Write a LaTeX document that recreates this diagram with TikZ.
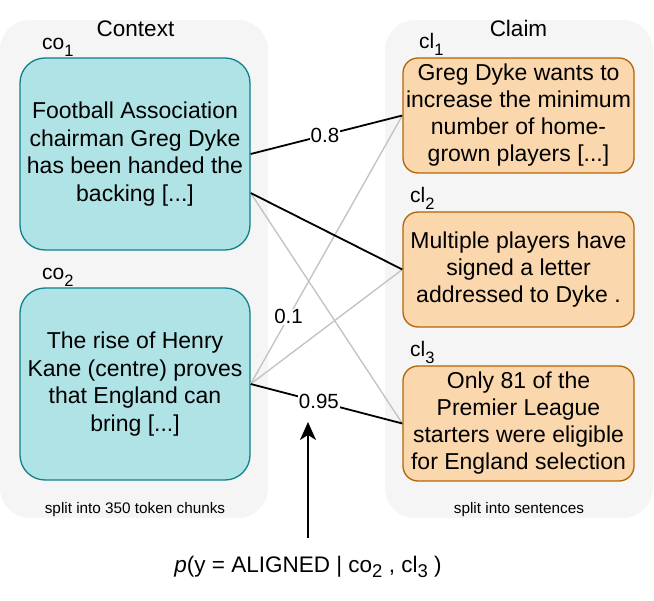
\documentclass[tikz,border=0pt]{standalone}
\usepackage{fontspec}
\setmainfont{Liberation Sans}
\usetikzlibrary{arrows.meta,calc}
\definecolor{cofill}{HTML}{B0E3E6}
\definecolor{codraw}{HTML}{0E8088}
\definecolor{clfill}{HTML}{FAD7AC}
\definecolor{cldraw}{HTML}{B46504}
\definecolor{panelfill}{HTML}{F5F5F5}
\definecolor{lightline}{HTML}{C4C4C4}
\newcommand{\mysub}[1]{\raisebox{-7pt}{\fontsize{16.5}{16.5}\selectfont #1}}
\begin{document}
\begin{tikzpicture}[x=1pt,y=-1pt,
  panel/.style={fill=panelfill,draw=none,rounded corners=30pt},
  cobox/.style={draw=codraw,fill=cofill,line width=1.3pt,rounded corners=25pt,
    minimum width=230pt,minimum height=192pt,inner sep=0pt,align=center,
    font=\fontsize{23}{27.5}\selectfont},
  clbox/.style={draw=cldraw,fill=clfill,line width=1.3pt,rounded corners=15pt,
    minimum width=231pt,minimum height=115pt,inner sep=0pt,align=center,
    font=\fontsize{23}{27}\selectfont},
  title/.style={anchor=base,font=\fontsize{22.5}{26}\selectfont,inner sep=0pt},
  tag/.style={anchor=base west,font=\fontsize{21}{24}\selectfont,inner sep=0pt},
  note/.style={font=\fontsize{15.3}{17}\selectfont,inner sep=0pt},
  strong/.style={black,line width=1.8pt},
  weak/.style={lightline,line width=1.4pt},
  elabel/.style={fill=white,inner sep=1pt,font=\fontsize{20.5}{22}\selectfont,text=black}
]
\useasboundingbox (0,0) rectangle (654,601);
% panels
\fill[panel] (0,20) rectangle (268,518);
\fill[panel] (385,20) rectangle (653,518);
\node[title] (ctxt) at (135.5,36.5) {Context};
\node[title] (clmt) at (518.5,36.5) {Claim};
\node[note] (ctxn) at (135,510) {split into 350 token chunks};
\node[note] (clmn) at (519,510) {split into sentences};
% context boxes
\node[cobox] (co1) at (135,154) {Football Association\\chairman Greg Dyke\\has been handed the\\backing [...]};
\node[cobox] (co2) at (135,384) {The rise of Henry\\Kane (centre) proves\\that England can\\bring [...]};
\node[tag] (co1l) at (42,50) {co\mysub{1}};
\node[tag] (co2l) at (42,280) {co\mysub{2}};
% claim boxes
\node[clbox] (cl1) at (518.5,115.5) {Greg Dyke wants to\\increase the minimum\\number of home-\\grown players [...]};
\node[clbox] (cl2) at (518.5,269.5) {Multiple players have\\signed a letter\\addressed to Dyke .};
\node[clbox] (cl3) at (518.5,423.5) {Only 81 of the\\Premier League\\starters were eligible\\for England selection};
\node[tag] (cl1l) at (419,49) {cl\mysub{1}};
\node[tag] (cl2l) at (410,203) {cl\mysub{2}};
\node[tag] (cl3l) at (410,357) {cl\mysub{3}};
% connection points
\coordinate (co1a) at (co1.east);
\coordinate (co1b) at ($(co1.east)+(0,39)$);
% weak links
\draw[weak] (co1b) -- (cl3.west);
\draw[weak] (co2.east) -- (cl1.west) node[elabel,pos=0.25] (l01) {0.1};
\draw[weak] (co2.east) -- (cl2.west);
% strong links
\draw[strong] (co1a) -- (cl1.west) node[elabel,pos=0.49] (l08) {0.8};
\draw[strong] (co1b) -- (cl2.west);
\draw[strong] (co2.east) -- (cl3.west) node[elabel,pos=0.45] (l095) {0.95};
% formula and arrow
\node[anchor=base,inner sep=0pt,font=\fontsize{22.5}{26}\selectfont] (formula) at (308,573)
  {{\itshape p}(y = ALIGNED | co\raisebox{-4.5pt}{\fontsize{18.5}{18.5}\selectfont 2} , cl\raisebox{-4.5pt}{\fontsize{18.5}{18.5}\selectfont 3} )};
\coordinate (arrfoot) at (308,538);
\coordinate (arrtip) at (308,422);
\draw[black,line width=1.8pt,-{Stealth[length=18pt,width=16pt,inset=5pt]}] (arrfoot) -- (arrtip);
\end{tikzpicture}
\end{document}
